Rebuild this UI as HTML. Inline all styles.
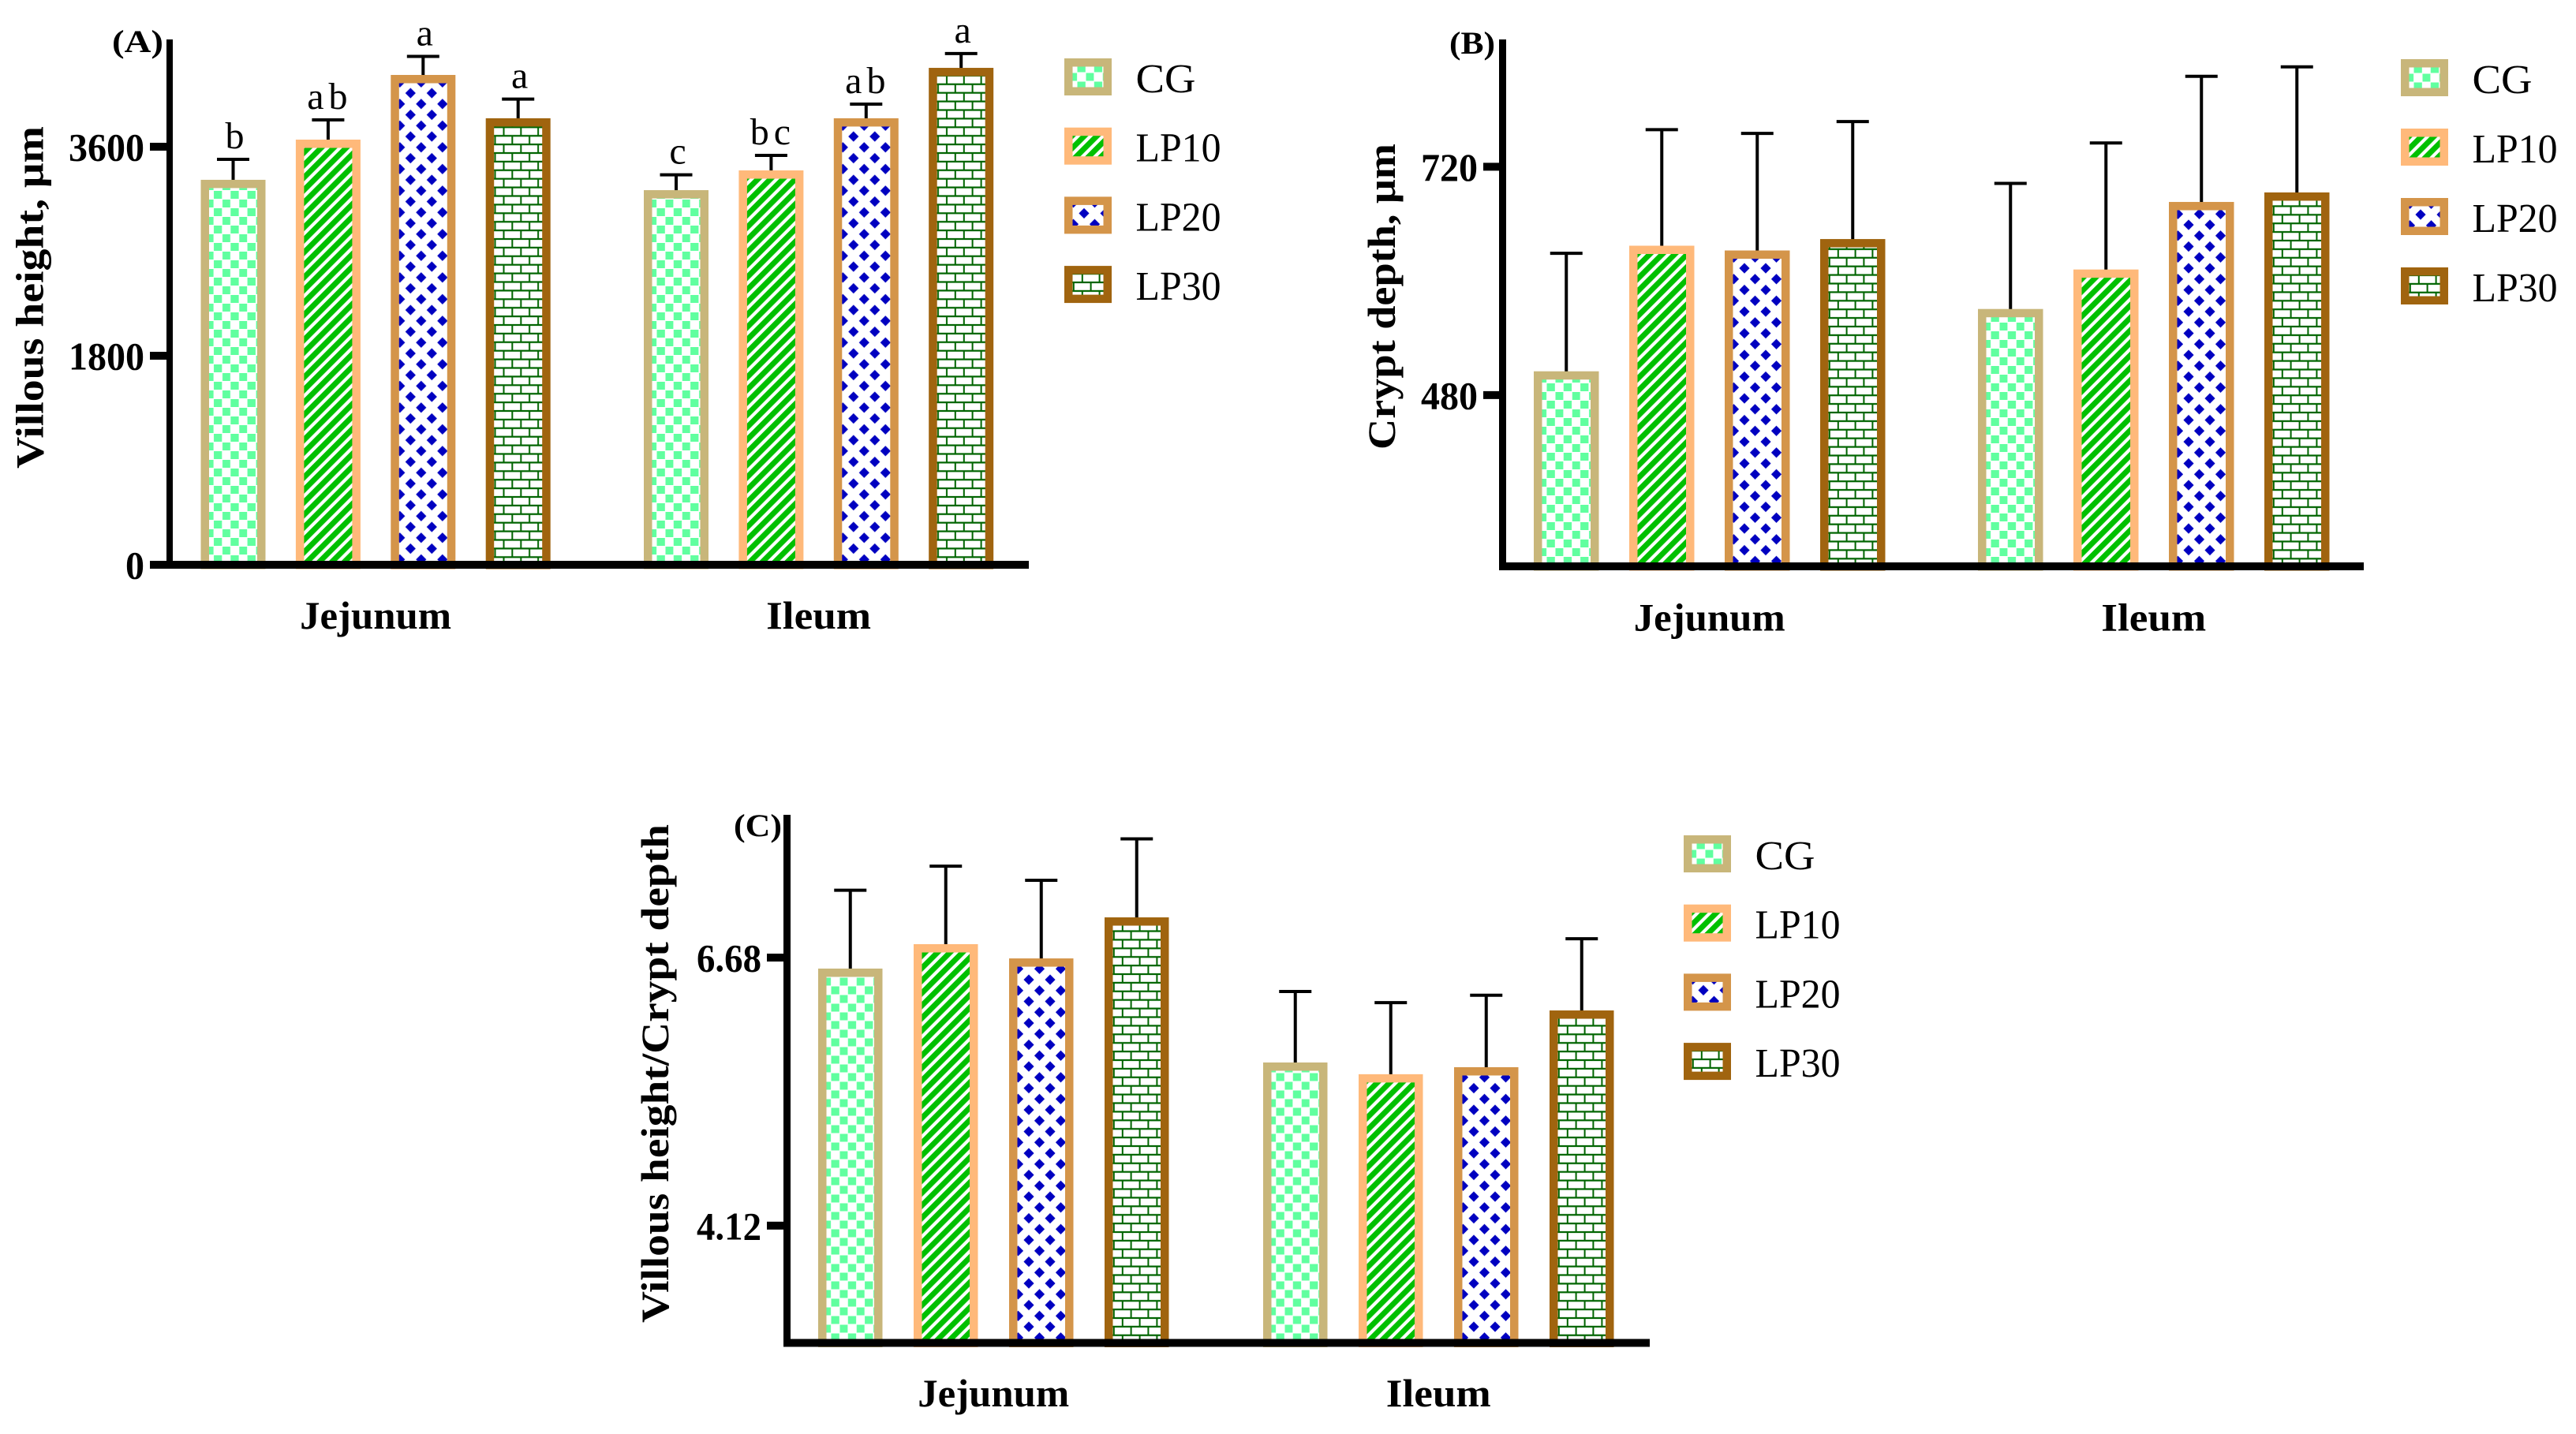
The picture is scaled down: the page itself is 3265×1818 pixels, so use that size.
<!DOCTYPE html>
<html lang="en">
<head>
<meta charset="utf-8">
<title>Villous height and crypt depth</title>
<style>
  html, body { margin: 0; padding: 0; background: #fff; }
  svg { display: block; font-family: "Liberation Serif", "DejaVu Serif", serif; }
</style>
</head>
<body>
<svg id="figure" xmlns="http://www.w3.org/2000/svg" width="3265" height="1818" viewBox="0 0 3265 1818">
  <rect width="3265" height="1818" fill="#ffffff"/>
  <defs>
    <pattern id="pat-cg" patternUnits="userSpaceOnUse" width="21.3" height="22" patternTransform="translate(0,-7)">
      <rect width="21.3" height="22" fill="#fff"/>
      <rect x="6" y="0" width="10.3" height="10" fill="#60ff9f"/>
      <rect x="17" y="11" width="4.3" height="10" fill="#60ff9f"/>
      <rect x="0" y="11" width="5.6" height="10" fill="#60ff9f"/>
    </pattern>
    <pattern id="pat-lp10" patternUnits="userSpaceOnUse" width="11.2" height="11.2" patternTransform="rotate(45)">
      <rect width="11.2" height="11.2" fill="#fff"/>
      <rect x="0" y="0" width="7" height="11.2" fill="#00c000"/>
    </pattern>
    <pattern id="pat-lp20" patternUnits="userSpaceOnUse" width="27" height="27.5" patternTransform="translate(0,-1.7)">
      <rect width="27" height="27.5" fill="#fff"/>
      <path d="M1 -6.6 L7.6 0 L1 6.6 L-5.6 0Z M28 -6.6 L34.6 0 L28 6.6 L21.4 0Z M1 20.9 L7.6 27.5 L1 34.1 L-5.6 27.5Z M28 20.9 L34.6 27.5 L28 34.1 L21.4 27.5Z M14.5 7.15 L21.1 13.75 L14.5 20.35 L7.9 13.75Z" fill="#0000c0"/>
    </pattern>
    <pattern id="pat-lp30" patternUnits="userSpaceOnUse" width="21.8" height="21.8" patternTransform="translate(0,-4.7)">
      <rect width="21.8" height="21.8" fill="#fff"/>
      <path d="M0 0H21.8M0 10.9H21.8M0 21.8H21.8" stroke="#006400" stroke-width="2.2" fill="none"/>
      <path d="M12.3 0V10.9M1.3 10.9V21.8" stroke="#006400" stroke-width="2" fill="none"/>
    </pattern>
  </defs>

  <g id="panel-a">
    <text x="142" y="66" font-size="40" font-weight="700" textLength="65" lengthAdjust="spacingAndGlyphs">(A)</text>
    <text transform="translate(54.5,594) rotate(-90)" font-size="50" font-weight="700" textLength="434" lengthAdjust="spacingAndGlyphs">Villous height, μm</text>
  </g>
  <g id="panel-b">
    <text x="1837" y="68" font-size="40" font-weight="700" textLength="58" lengthAdjust="spacingAndGlyphs">(B)</text>
    <text transform="translate(1768,570) rotate(-90)" font-size="50" font-weight="700" textLength="388" lengthAdjust="spacingAndGlyphs">Crypt depth, μm</text>
  </g>
  <g id="panel-c">
    <text x="930" y="1060" font-size="40" font-weight="700" textLength="61" lengthAdjust="spacingAndGlyphs">(C)</text>
    <text transform="translate(847,1677) rotate(-90)" font-size="50" font-weight="700" textLength="632" lengthAdjust="spacingAndGlyphs">Villous height/Crypt depth</text>
  </g>
</svg>

<script>
const seriesNames = ['CG', 'LP10', 'LP20', 'LP30'];
const categories = ['Jejunum', 'Ileum'];

const villusMeans = [3315, 3661, 4218, 3845, 3226, 3396, 3845, 4279];
const villusErrors = [176, 170, 160, 165, 132, 129, 122, 123];
const villusLetters = ['b', 'ab', 'a', 'a', 'c', 'bc', 'ab', 'a'];
const villusTicks = [0, 1800, 3600];
const villusTickLabels = ['0', '1800', '3600'];

const cryptMeans = [505, 637, 632, 644, 570.5, 612, 683, 693];
const cryptErrors = [124, 122, 123, 123.5, 132, 133, 132, 132];
const cryptLetters = [];
const cryptTicks = [480, 720];
const cryptTickLabels = ['480', '720'];

const ratioMeans = [6.575, 6.808, 6.672, 7.064, 5.678, 5.566, 5.633, 6.175];
const ratioErrors = [0.748, 0.745, 0.746, 0.75, 0.678, 0.684, 0.687, 0.685];
const ratioLetters = [];
const ratioTicks = [4.12, 6.68];
const ratioTickLabels = ['4.12', '6.68'];

const borderColors = ['#c8b67a', '#ffb97a', '#d4954a', '#a0640f'];
const patternIds = ['pat-cg', 'pat-lp10', 'pat-lp20', 'pat-lp30'];

const SVG_NS = 'http://www.w3.org/2000/svg';

function make(tag, attrs, parent) {
  const el = document.createElementNS(SVG_NS, tag);
  for (const k in attrs) el.setAttribute(k, attrs[k]);
  parent.appendChild(el);
  return el;
}

function tickLabelWidth(label) {
  const dots = (label.match(/\./g) || []).length;
  return (label.length - dots) * 24 + dots * 10;
}

function drawPanel(p) {
  const root = document.getElementById(p.id);

  // axis functions
  const yScale = (v) => p.baseY - (v - p.domainMin) * (p.baseY - p.domainMaxY) / (p.domainMax - p.domainMin);
  const barLeft = (i) => p.barStart + (i % 4) * p.barPitch + Math.floor(i / 4) * p.groupOffset;
  const borderW = 10.5;

  // bars, error bars, letters
  p.means.forEach((mean, i) => {
    const s = i % 4;
    const key = categories[Math.floor(i / 4)].toLowerCase() + '-' + seriesNames[s].toLowerCase();
    const left = barLeft(i);
    const top = yScale(mean);
    const center = left + p.barW / 2;
    const capY = yScale(mean + p.errors[i]);

    const stem = make('line', { x1: center, x2: center, y1: capY, y2: top + 2, stroke: '#000', 'stroke-width': 4 }, root);
    
    

    const cap = make('line', { x1: center - 20.5, x2: center + 20.5, y1: capY, y2: capY, stroke: '#000', 'stroke-width': 4 }, root);
    
    

    const g = make('g', { transform: 'translate(' + (left + borderW) + ',' + (p.baseY - p.axisH / 2) + ')' }, root);
    
    
    const barH = p.baseY - p.axisH / 2 - top;
    const innerW = p.barW - 2 * borderW;
    const bar = make('rect', {
      x: -borderW / 2, y: -barH + borderW / 2,
      width: innerW + borderW, height: barH,
      fill: 'url(#' + patternIds[s] + ')',
      stroke: borderColors[s], 'stroke-width': borderW
    }, g);
    
    

    if (p.letters[i]) {
      const t = make('text', {
        x: center + 2, y: capY - 14, 'text-anchor': 'middle', 'font-size': 48,
        'letter-spacing': p.letters[i].length > 1 ? 6 : 0
      }, root);
      t.textContent = p.letters[i];
      
      
    }
  });

  // y axis
  const axisY = make('rect', { x: p.axisX, y: p.axisTop, width: p.axisW, height: p.baseY - p.axisTop, fill: '#000' }, root);
  
  

  // x axis
  const axisXEl = make('rect', { x: p.axisX, y: p.baseY - p.axisH / 2, width: p.axisEnd - p.axisX, height: p.axisH, fill: '#000' }, root);
  
  

  // y ticks
  p.ticks.forEach((v, i) => {
    const y = yScale(v);
    const mark = make('rect', { x: p.axisX - p.tickLen, y: y - p.axisH / 2, width: p.tickLen, height: p.axisH, fill: '#000' }, root);
    
    

    const t = make('text', {
      x: p.axisX - p.tickLen - 7, y: y + 17.5, 'text-anchor': 'end', 'font-size': 50, 'font-weight': 700,
      textLength: tickLabelWidth(p.tickLabels[i]), lengthAdjust: 'spacingAndGlyphs'
    }, root);
    t.textContent = p.tickLabels[i];
    
    
  });

  // category labels
  categories.forEach((name, c) => {
    const center = (barLeft(c * 4) + barLeft(c * 4 + 3) + p.barW) / 2;
    const t = make('text', {
      x: center, y: p.catBaseline, 'text-anchor': 'middle', 'font-size': 50, 'font-weight': 700,
      textLength: name === 'Jejunum' ? 192 : 133, lengthAdjust: 'spacingAndGlyphs'
    }, root);
    t.textContent = name;
    
    
  });

  // legend
  seriesNames.forEach((name, s) => {
    const top = p.legendTop + s * p.legendStep;
    const g = make('g', { transform: 'translate(' + (p.legendX + borderW) + ',' + (top + 47 - borderW) + ')' }, root);
    
    

    const sw = make('rect', {
      x: -borderW / 2, y: -47 + 1.5 * borderW,
      width: 60 - borderW, height: 47 - borderW,
      fill: 'url(#' + patternIds[s] + ')', stroke: borderColors[s], 'stroke-width': borderW
    }, g);
    
    

    const t = make('text', {
      x: p.legendX + 90.5, y: top + 43, 'font-size': 52,
      textLength: name === 'CG' ? 76 : 108, lengthAdjust: 'spacingAndGlyphs'
    }, root);
    t.textContent = name;
    
    
  });
}

drawPanel({
  id: 'panel-a', means: villusMeans, errors: villusErrors, letters: villusLetters,
  ticks: villusTicks, tickLabels: villusTickLabels,
  domainMin: 0, domainMax: 3600, baseY: 716, domainMaxY: 186,
  axisX: 211, axisW: 8, axisTop: 50, axisEnd: 1304, axisH: 10, tickLen: 21,
  barStart: 254.5, barPitch: 120.4, groupOffset: 561.5, barW: 82,
  catBaseline: 797, legendX: 1349, legendTop: 74, legendStep: 87.7
});
drawPanel({
  id: 'panel-b', means: cryptMeans, errors: cryptErrors, letters: cryptLetters,
  ticks: cryptTicks, tickLabels: cryptTickLabels,
  domainMin: 300, domainMax: 720, baseY: 718, domainMaxY: 211.4,
  axisX: 1900, axisW: 9, axisTop: 50, axisEnd: 2996, axisH: 10, tickLen: 20,
  barStart: 1944, barPitch: 121, groupOffset: 563, barW: 82.5,
  catBaseline: 799.5, legendX: 3043, legendTop: 75, legendStep: 88
});
drawPanel({
  id: 'panel-c', means: ratioMeans, errors: ratioErrors, letters: ratioLetters,
  ticks: ratioTicks, tickLabels: ratioTickLabels,
  domainMin: 3, domainMax: 6.68, baseY: 1702.5, domainMaxY: 1214,
  axisX: 993, axisW: 9, axisTop: 1033, axisEnd: 2091, axisH: 10, tickLen: 21,
  barStart: 1037, barPitch: 121, groupOffset: 564, barW: 81.5,
  catBaseline: 1783, legendX: 2134, legendTop: 1059, legendStep: 87.7
});
</script>
</body>
</html>
